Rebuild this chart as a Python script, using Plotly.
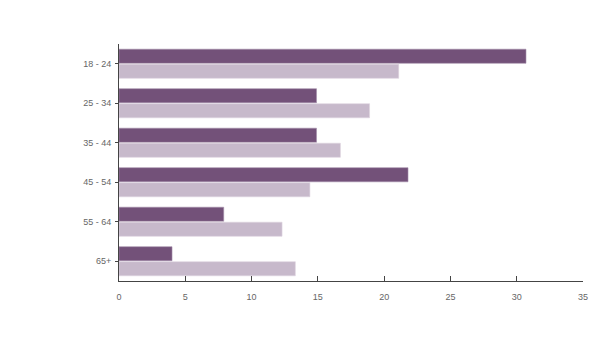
import plotly.graph_objects as go

categories = ["18 - 24", "25 - 34", "35 - 44", "45 - 54", "55 - 64", "65+"]
series_a = [30.7, 14.9, 14.9, 21.8, 7.9, 4.0]
series_b = [21.1, 18.9, 16.7, 14.4, 12.3, 13.3]
x_ticks = [0, 5, 10, 15, 20, 25, 30, 35]

fig = go.Figure()
fig.add_trace(go.Bar(y=categories, x=series_a, orientation="h", name="A",
                     marker=dict(color="#735179", line=dict(color="#a58fab", width=0.6))))
fig.add_trace(go.Bar(y=categories, x=series_b, orientation="h", name="B",
                     marker=dict(color="#c7b9cb", line=dict(color="#ddd3df", width=0.6))))

fig.update_layout(
    width=600, height=350,
    margin=dict(l=119, r=17, t=44, b=69),
    paper_bgcolor="white", plot_bgcolor="white",
    barmode="group", bargap=0.24, bargroupgap=0.06,
    showlegend=False,
    font=dict(family="Liberation Sans, Arial, sans-serif", size=9, color="#666666"),
    xaxis=dict(range=[0, 35], tickvals=x_ticks, showgrid=False, zeroline=False,
               showline=True, linecolor="#444444", linewidth=1,
               ticks="inside", ticklen=5, tickcolor="#444444", tickwidth=1,
               ticklabelstandoff=7),
    yaxis=dict(autorange="reversed", showgrid=False, zeroline=False,
               showline=True, linecolor="#444444", linewidth=1,
               ticks="outside", ticklen=3, tickcolor="#444444",
               ticklabelstandoff=2),
)

fig.write_html("out.html")
